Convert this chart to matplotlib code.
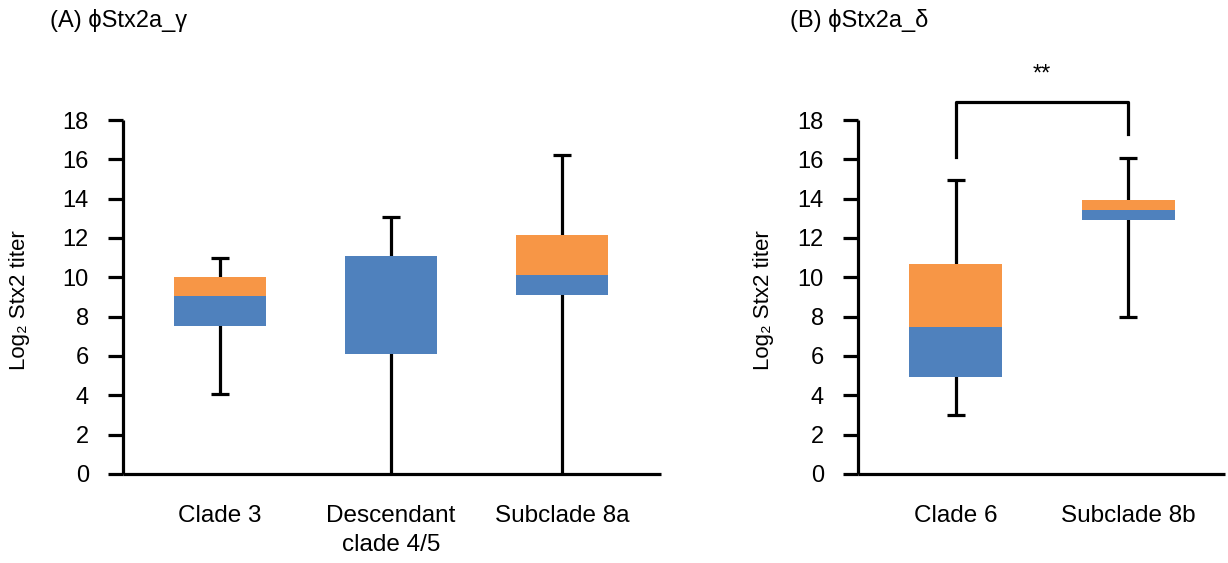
import matplotlib
matplotlib.use("Agg")
import matplotlib.pyplot as plt

plt.rcParams['font.family'] = ['Liberation Sans', 'DejaVu Sans']

# panel A
cats_a = ["Clade 3", "Descendant\nclade 4/5", "Subclade 8a"]
low_a = [4.05, 0.0, 0.0]
q1_a = [7.55, 6.1, 9.1]
med_a = [9.05, 11.1, 10.1]
q3_a = [10.0, 11.1, 12.15]
high_a = [11.0, 13.05, 16.2]

# panel B
cats_b = ["Clade 6", "Subclade 8b"]
low_b = [3.0, 8.0]
q1_b = [4.95, 12.9]
med_b = [7.45, 13.4]
q3_b = [10.7, 13.93]
high_b = [14.95, 16.07]

blue = "#4F81BD"
orange = "#F79646"
lw = 2.3


def draw_panel(ax, cats, low, q1, med, q3, high, xmax):
    xs = list(range(len(cats)))
    for i in xs:
        ax.plot([i, i], [low[i], high[i]], color="black", lw=lw, zorder=1,
                solid_capstyle="butt")
        ax.plot([i], [high[i]], marker="_", ms=13, mew=lw, color="black", zorder=1)
        if low[i] > 0:
            ax.plot([i], [low[i]], marker="_", ms=13, mew=lw, color="black", zorder=1)
    b1 = [m - a for a, m in zip(q1, med)]
    b2 = [t - m for m, t in zip(med, q3)]
    ax.bar(xs, b1, bottom=q1, width=0.54, color=blue, linewidth=0, zorder=2)
    ax.bar(xs, b2, bottom=med, width=0.54, color=orange, linewidth=0, zorder=2)
    ax.set_xlim(-0.567, xmax)
    ax.set_ylim(0, 18)
    ax.set_yticks(range(0, 19, 2))
    ax.set_xticks(xs)
    ax.set_xticklabels(cats, fontsize=17.5, linespacing=1.45)
    ax.tick_params(axis="x", length=0, pad=22)
    ax.tick_params(axis="y", direction="out", length=10.5, width=lw,
                   labelsize=17, pad=14)
    for s in ["top", "right"]:
        ax.spines[s].set_visible(False)
    for s in ["left", "bottom"]:
        ax.spines[s].set_linewidth(lw)
        ax.spines[s].set_capstyle("butt")


fig = plt.figure(figsize=(12.28, 5.63), dpi=100)
ax1 = fig.add_axes([123 / 1228, 89 / 563, (661 - 123) / 1228, 354 / 563])
ax2 = fig.add_axes([858 / 1228, 89 / 563, (1225 - 858) / 1228, 354 / 563])

draw_panel(ax1, cats_a, low_a, q1_a, med_a, q3_a, high_a, 2.58)
draw_panel(ax2, cats_b, low_b, q1_b, med_b, q3_b, high_b, 1.56)

# significance bracket
ax2.plot([0, 0, 1, 1], [16.1, 18.9, 18.9, 17.3], color="black", lw=lw,
         clip_on=False)
ax2.text(0.5, 20.3, "**", ha="center", va="center", fontsize=17, clip_on=False)

fig.text(50 / 1228, 1 - 20 / 563, "(A) ϕStx2a_γ", fontsize=17, va="center")
fig.text(790 / 1228, 1 - 20 / 563, "(B) ϕStx2a_δ", fontsize=17, va="center")
fig.text(20 / 1228, 1 - 300 / 563, "Log₂ Stx2 titer", fontsize=16,
         rotation=90, ha="center", va="center")
fig.text(763 / 1228, 1 - 300 / 563, "Log₂ Stx2 titer", fontsize=16,
         rotation=90, ha="center", va="center")

fig.savefig("out.png", dpi=100)
